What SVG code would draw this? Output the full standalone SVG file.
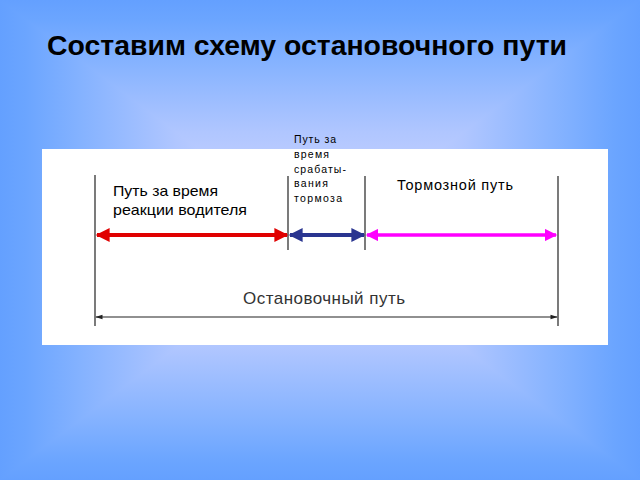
<svg xmlns="http://www.w3.org/2000/svg" width="640" height="480" viewBox="0 0 640 480">
<style>
.t{font-family:"Liberation Sans",Arial,sans-serif;fill:#000}
.v{stroke:#333;stroke-width:1.3}
</style>
<defs>
<linearGradient id="gv" x1="0" y1="0" x2="0" y2="240" gradientUnits="userSpaceOnUse">
<stop offset="0" stop-color="#64a0ff"/><stop offset="0.08" stop-color="#6ba5ff"/><stop offset="0.25" stop-color="#84b2ff"/><stop offset="0.55" stop-color="#b0c6ff"/><stop offset="0.75" stop-color="#c4d0ff"/><stop offset="1" stop-color="#d2daff"/>
</linearGradient>
<linearGradient id="gvb" x1="0" y1="480" x2="0" y2="240" gradientUnits="userSpaceOnUse">
<stop offset="0" stop-color="#64a0ff"/><stop offset="0.08" stop-color="#6ba5ff"/><stop offset="0.25" stop-color="#84b2ff"/><stop offset="0.55" stop-color="#b0c6ff"/><stop offset="0.75" stop-color="#c4d0ff"/><stop offset="1" stop-color="#d2daff"/>
</linearGradient>
<linearGradient id="gh" x1="0" y1="0" x2="320" y2="0" gradientUnits="userSpaceOnUse">
<stop offset="0" stop-color="#64a0ff"/><stop offset="0.08" stop-color="#6ba5ff"/><stop offset="0.25" stop-color="#84b2ff"/><stop offset="0.55" stop-color="#b0c6ff"/><stop offset="0.75" stop-color="#c4d0ff"/><stop offset="1" stop-color="#d2daff"/>
</linearGradient>
<linearGradient id="ghr" x1="640" y1="0" x2="320" y2="0" gradientUnits="userSpaceOnUse">
<stop offset="0" stop-color="#64a0ff"/><stop offset="0.08" stop-color="#6ba5ff"/><stop offset="0.25" stop-color="#84b2ff"/><stop offset="0.55" stop-color="#b0c6ff"/><stop offset="0.75" stop-color="#c4d0ff"/><stop offset="1" stop-color="#d2daff"/>
</linearGradient>
<marker id="hr" viewBox="0 0 10 10" refX="9" refY="5" markerWidth="4" markerHeight="3.5" orient="auto-start-reverse" markerUnits="strokeWidth"><path d="M0,0L10,5L0,10z" fill="#e00000"/></marker>
<marker id="hb" viewBox="0 0 10 10" refX="9" refY="5" markerWidth="4" markerHeight="3.5" orient="auto-start-reverse" markerUnits="strokeWidth"><path d="M0,0L10,5L0,10z" fill="#2a3590"/></marker>
<marker id="hm" viewBox="0 0 10 10" refX="9" refY="5" markerWidth="4" markerHeight="3.5" orient="auto-start-reverse" markerUnits="strokeWidth"><path d="M0,0L10,5L0,10z" fill="#ff00ff"/></marker>
<marker id="hk" viewBox="0 0 10 10" refX="9" refY="5" markerWidth="10" markerHeight="6" orient="auto-start-reverse" markerUnits="strokeWidth"><path d="M0,2L10,5L0,8z" fill="#222"/></marker>
</defs>
<g id="background">
<rect x="0" y="0" width="321" height="480" fill="url(#gh)"/>
<rect x="320" y="0" width="320" height="480" fill="url(#ghr)"/>
<polygon points="0,0 640,0 320,240" fill="url(#gv)"/>
<polygon points="0,480 640,480 320,240" fill="url(#gvb)"/>
</g>
<g id="title"><text class="t" x="47" y="55" font-size="28" font-weight="bold" textLength="520" lengthAdjust="spacingAndGlyphs">Составим схему остановочного пути</text></g>
<g id="panel"><rect x="42" y="149" width="566" height="196" fill="#fff"/></g>
<g id="ticks">
<line class="v" x1="95" y1="175" x2="95" y2="326"/>
<line class="v" x1="288" y1="176" x2="288" y2="250"/>
<line class="v" x1="365" y1="176" x2="365" y2="250"/>
<line class="v" x1="558" y1="176" x2="558" y2="326"/>
</g>
<g id="connectors">
<line x1="97" y1="235" x2="287" y2="235" stroke="#e00000" stroke-width="4" marker-start="url(#hr)" marker-end="url(#hr)"/>
<line x1="290" y1="235" x2="364" y2="235" stroke="#2a3590" stroke-width="4" marker-start="url(#hb)" marker-end="url(#hb)"/>
<line x1="367" y1="235" x2="556" y2="235" stroke="#ff00ff" stroke-width="3.5" marker-start="url(#hm)" marker-end="url(#hm)"/>
<line x1="96" y1="317" x2="557" y2="317" stroke="#222" stroke-width="1.2" marker-start="url(#hk)" marker-end="url(#hk)"/>
</g>
<g id="label-reaction"><text class="t" x="113" y="196" font-size="15" textLength="105" lengthAdjust="spacingAndGlyphs">Путь за время</text><text class="t" x="113" y="215" font-size="15" textLength="134" lengthAdjust="spacingAndGlyphs">реакции водителя</text></g>
<g id="label-brake-act"><text class="t" font-size="10.5" fill="#222"><tspan x="294" y="143" textLength="42">Путь за</tspan><tspan x="294" y="158" textLength="35">время</tspan><tspan x="294" y="173" textLength="52">срабаты-</tspan><tspan x="294" y="187" textLength="34">вания</tspan><tspan x="294" y="202" textLength="48">тормоза</tspan></text></g>
<g id="label-braking"><text class="t" x="397" y="190" font-size="14.5" textLength="116">Тормозной путь</text></g>
<g id="label-stop"><text x="243" y="304" font-size="17" fill="#333" font-family="Liberation Sans,Arial,sans-serif" textLength="162">Остановочный путь</text></g>
</svg>
